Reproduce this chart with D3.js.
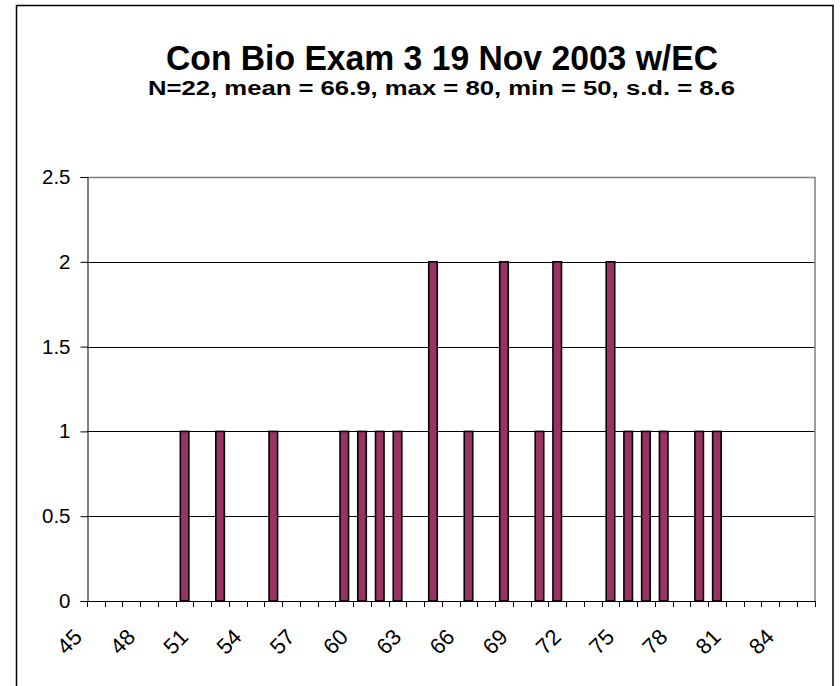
<!DOCTYPE html>
<html>
<head>
<meta charset="utf-8">
<script src="https://cdn.jsdelivr.net/npm/d3@7"></script>
<style>
  body { margin: 0; background: #fff; }
  text { font-family: Arial, "Liberation Sans", sans-serif; fill: #000; }
</style>
</head>
<body>
<div id="chart"></div>
<script>

// scores 45..85, one category per point
var categories = d3.range(45, 86);
var counts = [0,0,0,0,0, 1,0,1,0,0, 1,0,0,0,1, 1,1,1,0,2, 0,1,0,2,0, 1,2,0,0,2, 1,1,1,0,1, 1,0,0,0,0, 0];
var yTicks = [0, 0.5, 1, 1.5, 2, 2.5];
var title = 'Con Bio Exam 3 19 Nov 2003 w/EC';
var subtitle = 'N=22, mean = 66.9, max = 80, min = 50, s.d. = 8.6';

var width = 840, height = 686;
var plotL = 87, plotR = 814.5, plotT = 177, plotB = 601;

var svg = d3.select('#chart').append('svg')
    .attr('width', width).attr('height', height);

// chart frame (bottom edge falls outside the picture)
svg.append('rect')
    .attr('x', 16.5).attr('y', 5.5)
    .attr('width', 816.5).attr('height', 700)
    .attr('fill', '#fff').attr('stroke', '#000').attr('stroke-width', 1.5);

svg.append('text')
    .attr('x', 442).attr('y', 70)
    .attr('text-anchor', 'middle')
    .attr('textLength', 552).attr('lengthAdjust', 'spacingAndGlyphs')
    .style('font-size', '35px').style('font-weight', 'bold')
    .text(title);

svg.append('text')
    .attr('x', 441.5).attr('y', 95)
    .attr('text-anchor', 'middle')
    .attr('textLength', 587).attr('lengthAdjust', 'spacingAndGlyphs')
    .style('font-size', '20px').style('font-weight', 'bold')
    .text(subtitle);

var x = d3.scaleBand()
    .domain(categories)
    .range([plotL, plotR])
    .paddingInner(0.52)
    .paddingOuter(0.26);

var y = d3.scaleLinear()
    .domain([0, 2.5])
    .range([plotB, plotT]);

var step = x.step();

// gridlines
svg.append('g').selectAll('line')
    .data(yTicks.slice(1)).enter().append('line')
    .attr('x1', plotL).attr('x2', plotR)
    .attr('y1', function(d) { return Math.round(y(d)) + 0.5; })
    .attr('y2', function(d) { return Math.round(y(d)) + 0.5; })
    .attr('stroke', '#000').attr('stroke-width', 1);

// plot border top/right
svg.append('path')
    .attr('d', 'M' + plotL + ',' + (plotT + 0.5) + 'H' + (plotR + 0.5) + 'V' + plotB)
    .attr('fill', 'none').attr('stroke', '#808080').attr('stroke-width', 1.5);

// bars
svg.append('g').selectAll('rect')
    .data(counts.map(function(c, i) { return { cat: categories[i], n: c }; })
        .filter(function(d) { return d.n > 0; }))
    .enter().append('rect')
    .attr('x', function(d) { return x(d.cat); })
    .attr('y', function(d) { return y(d.n); })
    .attr('width', x.bandwidth())
    .attr('height', function(d) { return y(0) - y(d.n); })
    .attr('fill', '#993366').attr('stroke', '#000').attr('stroke-width', 1.6);

// y axis
var yAxis = svg.append('g')
    .attr('transform', 'translate(' + (plotL + 0.5) + ',0)')
    .call(d3.axisLeft(y).tickValues(yTicks).tickSize(7).tickPadding(10)
        .tickFormat(function(d) { return String(d); }));
yAxis.selectAll('text').style('font-size', '20.5px').attr('font-family', null);
yAxis.selectAll('line, path').attr('stroke', '#000');

// x axis line + ticks at category boundaries
svg.append('line')
    .attr('x1', plotL).attr('x2', plotR + 1)
    .attr('y1', plotB + 0.5).attr('y2', plotB + 0.5)
    .attr('stroke', '#000');

var bounds = categories.map(function(c) { return x(c) - step * x.paddingOuter(); });
bounds.push(plotR);
svg.append('g').selectAll('line')
    .data(bounds).enter().append('line')
    .attr('x1', function(d) { return Math.round(d) + 0.5; })
    .attr('x2', function(d) { return Math.round(d) + 0.5; })
    .attr('y1', plotB).attr('y2', plotB + 6)
    .attr('stroke', '#000');

// rotated labels, every 3rd category
svg.append('g').selectAll('text')
    .data(categories.filter(function(c, i) { return i % 3 == 0; }))
    .enter().append('text')
    .attr('transform', function(d) {
        var cx = x(d) + x.bandwidth() / 2 - 18;
        return 'translate(' + cx + ',633) rotate(-45)';
    })
    .attr('text-anchor', 'end')
    .attr('dy', '0.35em')
    .style('font-size', '22px')
    .text(function(d) { return d; });

</script>
</body>
</html>
